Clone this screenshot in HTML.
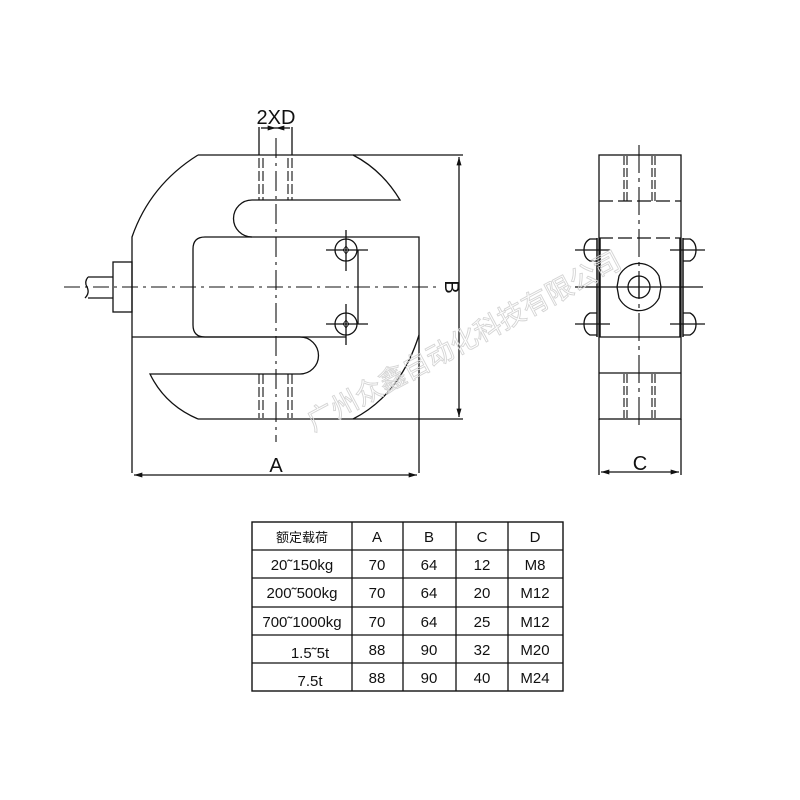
<!DOCTYPE html>
<html><head><meta charset="utf-8"><style>
html,body{margin:0;padding:0;background:#fff;}
svg{display:block;}
text{font-family:"Liberation Sans","Noto Sans CJK SC",sans-serif;fill:#111;}
</style></head><body>
<svg width="800" height="800" viewBox="0 0 800 800" xmlns="http://www.w3.org/2000/svg">
<defs>
<marker id="ar" viewBox="0 0 10 6" refX="10" refY="3" markerWidth="14" markerHeight="5" orient="auto-start-reverse" markerUnits="userSpaceOnUse"><path d="M0,0 L10,3 L0,6z" fill="#111"/></marker>
</defs>
<g fill="none" stroke="#111" stroke-width="1.3">
<path d="M198,155 L353,155 Q382,170 400,200 L252,200 A18,18 0 0 0 252,237 L419,237 L419,419 L198,419"/>
<path d="M198,155 Q150,185 132,237 L132,473"/>
<path d="M419,335 Q400,395 353,419"/>
<path d="M198,419 Q165,405 150,374 L300,374 A18,18 0 0 0 300,337 L132,337"/>
<path d="M419,419 L419,473"/>
<path d="M252,237 L205,237 Q193,237 193,249 L193,325 Q193,337 205,337 L300,337"/>
<path d="M300,337 L346,337"/>
<path d="M353,155 L463,155 M419,419 L463,419"/>
<path d="M259,127 L259,155 M292,127 L292,155"/>
<line x1="459" y1="157" x2="459" y2="417" marker-start="url(#ar)" marker-end="url(#ar)"/>
<line x1="134" y1="475" x2="417" y2="475" marker-start="url(#ar)" marker-end="url(#ar)"/>
<line x1="261" y1="128" x2="276" y2="128" marker-end="url(#ar)"/>
<line x1="290" y1="128" x2="276" y2="128" marker-end="url(#ar)"/>
<path d="M64,287 L440,287" stroke-dasharray="16,5,3,5" stroke-width="1.1"/>
<path d="M276,138 L276,442" stroke-dasharray="20,5,3,5" stroke-width="1.1"/>
<g stroke-dasharray="10,3" stroke-width="1.1">
<path d="M259,158 L259,200 M263,158 L263,200 M288,158 L288,200 M292,158 L292,200"/>
<path d="M259,374 L259,418 M263,374 L263,418 M288,374 L288,418 M292,374 L292,418"/>
</g>
<circle cx="346" cy="250" r="11"/><circle cx="346" cy="324" r="11"/>
<path d="M326,250 L368,250 M346,230 L346,271 M326,324 L368,324 M346,304 L346,345 M358,250 L358,324"/>
<path d="M343,250 L346,246 L349,250 L346,254z M343,324 L346,320 L349,324 L346,328z" stroke-width="0.8"/>
<rect x="113" y="262" width="19" height="50"/>
<path d="M113,277 L88,277 M113,298 L88,298 M88,277 Q84,282 87,287 Q90,293 85,298"/>
<rect x="599" y="155" width="82" height="264"/>
<path d="M599,337 L681,337 M599,373 L681,373"/>
<path d="M599,201 L681,201 M599,238 L681,238" stroke-dasharray="14,5"/>
<path d="M599,419 L599,475 M681,419 L681,475"/>
<line x1="601" y1="472" x2="679" y2="472" marker-start="url(#ar)" marker-end="url(#ar)"/>
<path d="M639,145 L639,430" stroke-dasharray="28,5,4,5" stroke-width="1.1"/>
<g stroke-dasharray="9,3" stroke-width="1.1">
<path d="M624,156 L624,201 M627,156 L627,201 M652,156 L652,201 M655,156 L655,201"/>
<path d="M624,374 L624,418 M627,374 L627,418 M652,374 L652,418 M655,374 L655,418"/>
</g>
<path d="M619,276 A23,25 0 0 1 659,276 L661,287 L659,298 A23,25 0 0 1 619,298 L617,287 Z"/>
<circle cx="639" cy="287" r="11"/>
<path d="M575,287 L703,287 M639,276 L639,298"/>
<path d="M597,238 L597,337 M600,238 L600,337 M680,238 L680,337 M683,238 L683,337" stroke-width="1.5"/>
<path d="M597,239 L590,239 Q584,242 584,250 Q584,258 590,261 L597,261 M597,313 L590,313 Q584,316 584,324 Q584,332 590,335 L597,335"/>
<path d="M683,239 L690,239 Q696,242 696,250 Q696,258 690,261 L683,261 M683,313 L690,313 Q696,316 696,324 Q696,332 690,335 L683,335"/>
<path d="M575,250 L610,250 M575,324 L610,324 M670,250 L705,250 M670,324 L705,324"/>
<rect x="252" y="522" width="311" height="169" stroke-width="1.4"/>
<path d="M252,550 L563,550 M252,578 L563,578 M252,607 L563,607 M252,635 L563,635 M252,663 L563,663"/>
<path d="M352,522 L352,691 M403,522 L403,691 M456,522 L456,691 M508,522 L508,691"/>
</g>
<text x="276" y="124" font-size="20" text-anchor="middle">2XD</text>
<text x="276" y="472" font-size="20" text-anchor="middle">A</text>
<text x="452" y="287" font-size="20" text-anchor="middle" transform="rotate(90 452 287)" dy="7">B</text>
<text x="640" y="470" font-size="20" text-anchor="middle">C</text>
<g font-size="15" text-anchor="middle">
<text x="302" y="542" font-size="13">额定载荷</text><text x="377" y="542">A</text><text x="429" y="542">B</text><text x="482" y="542">C</text><text x="535" y="542">D</text>
<text x="302" y="570">20˜150kg</text><text x="377" y="570">70</text><text x="429" y="570">64</text><text x="482" y="570">12</text><text x="535" y="570">M8</text>
<text x="302" y="598">200˜500kg</text><text x="377" y="598">70</text><text x="429" y="598">64</text><text x="482" y="598">20</text><text x="535" y="598">M12</text>
<text x="302" y="627">700˜1000kg</text><text x="377" y="627">70</text><text x="429" y="627">64</text><text x="482" y="627">25</text><text x="535" y="627">M12</text>
<text x="310" y="658">1.5˜5t</text><text x="377" y="655">88</text><text x="429" y="655">90</text><text x="482" y="655">32</text><text x="535" y="655">M20</text>
<text x="310" y="686">7.5t</text><text x="377" y="683">88</text><text x="429" y="683">90</text><text x="482" y="683">40</text><text x="535" y="683">M24</text>
</g>
<text x="465" y="350" font-size="27" text-anchor="middle" transform="rotate(-28 465 343)" style="fill:none;stroke:#d4d4d4;stroke-width:0.9">广州众鑫自动化科技有限公司</text>
</svg>
</body></html>
